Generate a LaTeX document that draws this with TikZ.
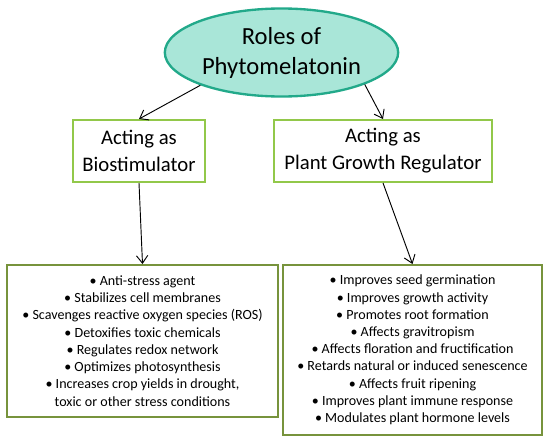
\documentclass[tikz,border=0pt]{standalone}
\usepackage{fontspec}
\setmainfont{Carlito}
\usetikzlibrary{arrows,arrows.meta,shapes.geometric}

\definecolor{tealfill}{HTML}{A9E6D8}
\definecolor{tealline}{HTML}{22A98A}
\definecolor{lightgreen}{HTML}{92C84A}
\definecolor{olivegreen}{HTML}{77933C}

\tikzset{
    rolebox/.style={draw=lightgreen, line width=1.7pt, inner sep=0pt, align=center,
        font=\fontsize{17.7}{23}\selectfont, minimum height=1.86cm},
    listbox/.style={draw=olivegreen, line width=1.7pt, inner sep=0pt, align=center,
        font=\fontsize{12}{14.7}\selectfont},
    link/.style={-{Straight Barb[length=2.3mm,width=3.4mm]}, line width=0.8pt}
}

\begin{document}
\begin{tikzpicture}[x=0.03cm, y=-0.03cm]
        \useasboundingbox (0,0) rectangle (550,442);

        % the title
        \node[ellipse, draw=tealline, fill=tealfill, line width=2pt, inner sep=0pt,
            minimum width=7.0cm, minimum height=2.64cm, align=center,
            font=\fontsize{21}{25.5}\selectfont] (title) at (281.5,52.5) {Roles of\\Phytomelatonin};

        % the two roles
        \node[rolebox, minimum width=3.96cm] (bio) at (139,151) {Acting as\\Biostimulator};
        \node[rolebox, minimum width=6.54cm] (pgr) at (383,151) {Acting as\\Plant Growth Regulator};

        % the lists
        \node[listbox, minimum width=8.13cm, minimum height=4.56cm] (bioList) at (142.5,341) {%
            \textbullet\ Anti-stress agent\\
            \textbullet\ Stabilizes cell membranes\\
            \textbullet\ Scavenges reactive oxygen species (ROS)\\
            \textbullet\ Detoxifies toxic chemicals\\
            \textbullet\ Regulates redox network\\
            \textbullet\ Optimizes photosynthesis\\
            \textbullet\ Increases crop yields in drought,\\
            toxic or other stress conditions};
        \node[listbox, minimum width=7.77cm, minimum height=5.1cm] (pgrList) at (412.5,350) {%
            \textbullet\ Improves seed germination\\
            \textbullet\ Improves growth activity\\
            \textbullet\ Promotes root formation\\
            \textbullet\ Affects gravitropism\\
            \textbullet\ Affects floration and fructification\\
            \textbullet\ Retards natural or induced senescence\\
            \textbullet\ Affects fruit ripening\\
            \textbullet\ Improves plant immune response\\
            \textbullet\ Modulates plant hormone levels};

        % draw the arrows
        \draw[link] (title.202) -- (bio.north);
        \draw[link] (title.339) -- (pgr.north);
        \draw[link] (bio.south) -- (bioList.north);
        \draw[link] (pgr.south) -- (pgrList.north);

\end{tikzpicture}
\end{document}
